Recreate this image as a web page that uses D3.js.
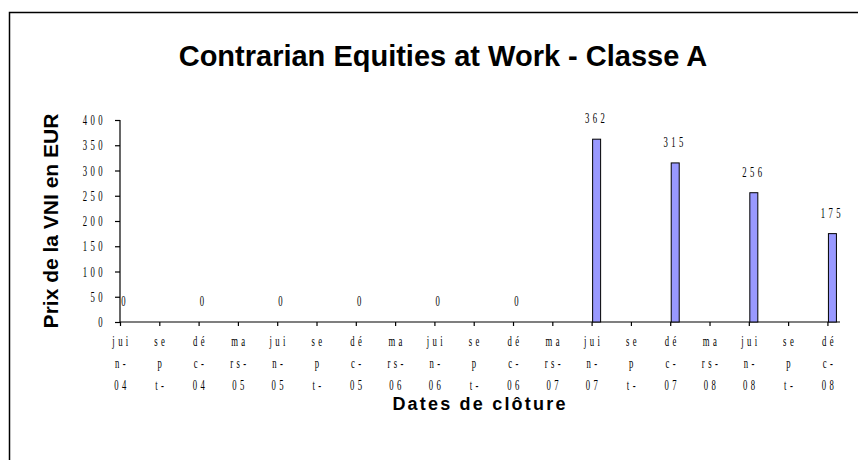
<!DOCTYPE html>
<html><head><meta charset="utf-8">
<script src="https://cdn.jsdelivr.net/npm/d3@7/dist/d3.min.js"></script>
<style>body{margin:0;background:#fff}svg{display:block}</style>
</head><body><svg id="c" width="858" height="460"></svg>
<script>
const categories = ["juin-04","sept-04","déc-04","mars-05","juin-05","sept-05","déc-05","mars-06","juin-06","sept-06","déc-06","mars-07","juin-07","sept-07","déc-07","mars-08","juin-08","sept-08","déc-08"];
const tickLines = [["jui","n-","04"],["se","p","t-"],["dé","c-","04"],["ma","rs-","05"],["jui","n-","05"],["se","p","t-"],["dé","c-","05"],["ma","rs-","06"],["jui","n-","06"],["se","p","t-"],["dé","c-","06"],["ma","rs-","07"],["jui","n-","07"],["se","p","t-"],["dé","c-","07"],["ma","rs-","08"],["jui","n-","08"],["se","p","t-"],["dé","c-","08"]];
const values = [0,null,0,null,0,null,0,null,0,null,0,null,362,null,315,null,256,null,175];
const yTicks = [0,50,100,150,200,250,300,350,400];
const title = "Contrarian Equities at Work - Classe A";
const yTitle = "Prix de la VNI en EUR";
const xTitle = "Dates de clôture";

const svg = d3.select("#c");
svg.append("rect").attr("x",9.5).attr("y",12.5).attr("width",860).attr("height",460)
  .attr("fill","none").attr("stroke","#000").attr("stroke-width",1.5);

const x = d3.scaleLinear().domain([0, 18.32]).range([120, 840]);
const y = d3.scaleLinear().domain([0, 400]).range([322, 120]);
const barW = 8;
const SX = 0.62;

function condensed(g, tx, ty, txt, anchor) {
  return g.append("text").attr("transform", `translate(${tx},${ty}) scale(${SX},1)`)
    .attr("font-family","Liberation Serif, Times New Roman, serif").attr("font-size",14)
    .attr("letter-spacing",5.5).attr("text-anchor",anchor).attr("fill","#000").text(txt);
}

// y axis
const yAxis = d3.axisLeft(y).tickValues(yTicks).tickSize(5).tickFormat("");
const gy = svg.append("g").attr("transform","translate(120,0)").call(yAxis);
gy.selectAll("path,line").attr("stroke","#000").attr("stroke-width",1.2);
gy.select(".domain").attr("d", `M0,${y(400)}V${y(0)}`);
yTicks.forEach(v => condensed(svg, 106, y(v)+5, String(v), "end"));

// x axis
const idx = categories.map((c,i)=>i);
const xAxis = d3.axisBottom(x).tickValues(idx).tickSize(4).tickFormat("");
const gx = svg.append("g").attr("transform",`translate(0,${y(0)})`).call(xAxis);
gx.selectAll("path,line").attr("stroke","#000").attr("stroke-width",1.2);
gx.select(".domain").attr("d", `M120,0H840`);
tickLines.forEach((lines,i)=>{
  lines.forEach((ln,j)=> condensed(svg, x(i)+2, 346 + j*22, ln, "middle"));
});

// bars
const data = categories.map((c,i)=>({i, v: values[i]})).filter(d=>d.v!==null);
svg.selectAll("rect.bar").data(data.filter(d=>d.v>0)).join("rect").attr("class","bar")
  .attr("x", d=>x(d.i)+1).attr("y", d=>y(d.v)).attr("width", barW).attr("height", d=>y(0)-y(d.v))
  .attr("fill","#9999FF").attr("stroke","#000").attr("stroke-width",1);
data.forEach(d=> condensed(svg, x(d.i)+5, y(d.v)-16, String(d.v), "middle"));

// titles
svg.append("text").attr("x",443).attr("y",66).attr("text-anchor","middle")
  .attr("font-family","Liberation Sans, Arial, sans-serif").attr("font-weight","bold").attr("font-size",29).text(title);
svg.append("text").attr("transform","translate(58,221) rotate(-90)").attr("text-anchor","middle")
  .attr("font-family","Liberation Sans, Arial, sans-serif").attr("font-weight","bold").attr("font-size",21).text(yTitle);
svg.append("text").attr("x",480).attr("y",410).attr("text-anchor","middle")
  .attr("font-family","Liberation Sans, Arial, sans-serif").attr("font-weight","bold").attr("font-size",18).attr("letter-spacing",2.2).text(xTitle);
</script></body></html>
